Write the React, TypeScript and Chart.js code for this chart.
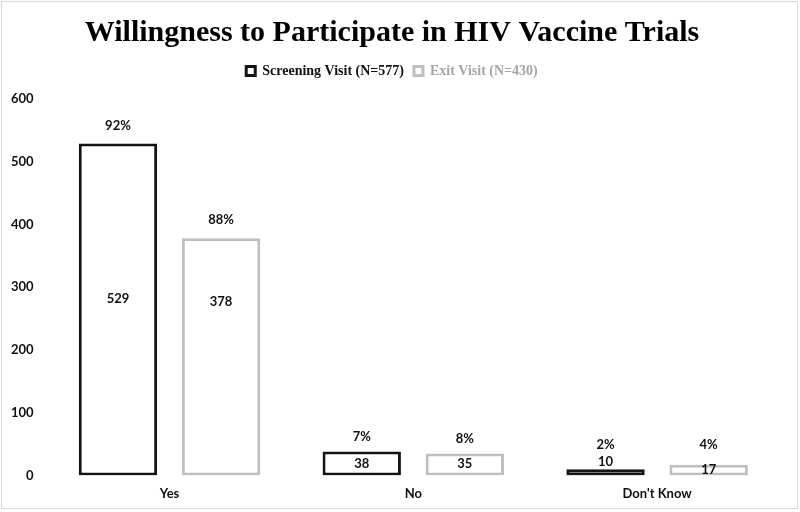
import React, { useEffect, useRef } from "react";
import { Chart, registerables } from "chart.js";

Chart.register(...registerables);

const categories = ["Yes", "No", "Don't Know"];
const screeningValues = [529, 38, 10];
const exitValues = [378, 35, 17];
const screeningPct = ["92%", "7%", "2%"];
const exitPct = ["88%", "8%", "4%"];
const yTicks = [0, 100, 200, 300, 400, 500, 600];
const seriesNames = ["Screening Visit (N=577)", "Exit Visit (N=430)"];

// where the annotation text sits, on the value axis (as placed in the original)
const screeningValueLabelAt = [281, 19, 21];
const exitValueLabelAt = [277, 18, 9.5];
const screeningPctLabelAt = [558, 62, 49.5];
const exitPctLabelAt = [407, 59, 49.5];

const BLACK = "#141414";
const GREY = "#bfbfbf";

const labelPlugin = {
  id: "barLabels",
  afterDatasetsDraw(chart: any) {
    const ctx = chart.ctx;
    const y = chart.scales.y;
    const pcts = [screeningPct, exitPct];
    const valAt = [screeningValueLabelAt, exitValueLabelAt];
    const pctAt = [screeningPctLabelAt, exitPctLabelAt];
    ctx.save();
    ctx.font = "bold 13px Lato, 'Open Sans', sans-serif";
    ctx.fillStyle = "#111";
    ctx.textAlign = "center";
    ctx.textBaseline = "middle";
    chart.data.datasets.forEach((ds: any, di: number) => {
      const meta = chart.getDatasetMeta(di);
      meta.data.forEach((bar: any, i: number) => {
        ctx.fillText(String(ds.data[i]), bar.x, y.getPixelForValue(valAt[di][i]));
        ctx.fillText(pcts[di][i], bar.x, y.getPixelForValue(pctAt[di][i]));
      });
    });
    ctx.restore();
  },
};

const framePlugin = {
  id: "frame",
  beforeInit(chart: any) {
    const legend = chart.legend;
    if (legend) {
      const fit = legend.fit;
      legend.fit = function () {
        fit.call(this);
        this.height += 11;
      };
    }
  },
  afterDraw(chart: any) {
    const ctx = chart.ctx;
    ctx.save();
    ctx.strokeStyle = "#d9d9d9";
    ctx.lineWidth = 1;
    ctx.strokeRect(1.5, 1.5, chart.width - 4, chart.height - 5);
    ctx.restore();
  },
};

export default function App() {
  const ref = useRef<HTMLCanvasElement>(null);
  useEffect(() => {
    document.body.style.margin = "0";
    const chart = new Chart(ref.current!, {
      type: "bar",
      data: {
        labels: categories,
        datasets: [
          {
            label: seriesNames[0],
            data: screeningValues,
            backgroundColor: "#ffffff",
            borderColor: BLACK,
            borderWidth: 3,
            borderSkipped: false,
            categoryPercentage: 0.846,
            barPercentage: 0.76,
          },
          {
            label: seriesNames[1],
            data: exitValues,
            backgroundColor: "#ffffff",
            borderColor: GREY,
            borderWidth: 3,
            borderSkipped: false,
            categoryPercentage: 0.846,
            barPercentage: 0.76,
          },
        ],
      },
      options: {
        animation: false,
        responsive: false,
        maintainAspectRatio: false,
        layout: { padding: { left: 5, right: 21, top: 6, bottom: 7 } },
        plugins: {
          title: {
            display: true,
            text: "Willingness to Participate in HIV Vaccine Trials",
            font: { family: "'Liberation Serif', 'Times New Roman', serif", size: 30, weight: "bold" },
            color: "#000",
            padding: { top: 9, bottom: 3 },
          },
          legend: {
            display: true,
            position: "top",
            labels: {
              boxWidth: 9,
              boxHeight: 9,
              padding: 10,
              font: { family: "'Liberation Serif', 'Times New Roman', serif", size: 14, weight: "bold" },
              generateLabels: (chart: any) =>
                chart.data.datasets.map((ds: any, i: number) => ({
                  text: ds.label,
                  fillStyle: "#ffffff",
                  strokeStyle: ds.borderColor,
                  lineWidth: 3,
                  fontColor: i === 0 ? "#111" : "#a6a6a6",
                  datasetIndex: i,
                  hidden: false,
                })),
            },
          },
          tooltip: { enabled: false },
        },
        scales: {
          x: {
            grid: { display: false },
            border: { display: false },
            ticks: {
              color: "#111",
              font: { family: "Lato, 'Open Sans', sans-serif", size: 13, weight: "bold" },
              padding: 3,
            },
          },
          y: {
            min: 0,
            max: 600,
            afterBuildTicks: (axis: any) => {
              axis.ticks = yTicks.map((v) => ({ value: v }));
            },
            grid: { display: false },
            border: { display: false },
            ticks: {
              color: "#111",
              font: { family: "Lato, 'Open Sans', sans-serif", size: 13, weight: "bold" },
              padding: 6,
            },
          },
        },
      },
      plugins: [labelPlugin, framePlugin],
    });
    return () => chart.destroy();
  }, []);
  return (
    <div style={{ width: 800, height: 512 }}>
      <canvas ref={ref} width={800} height={512} style={{ display: "block" }} />
    </div>
  );
}
